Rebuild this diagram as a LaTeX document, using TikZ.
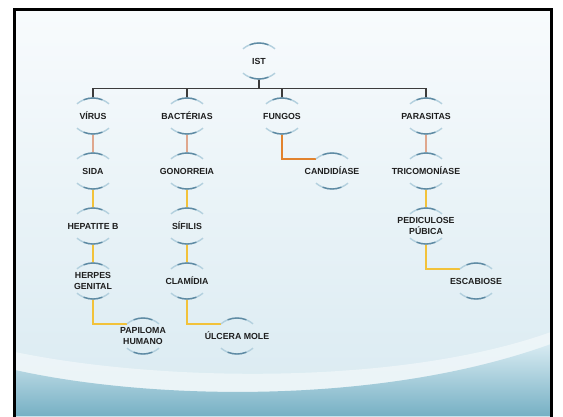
\documentclass[tikz,border=0pt]{standalone}
\usepackage{fontspec}
\setmainfont{Liberation Sans}
\usepackage{xcolor}
\usetikzlibrary{positioning}
\definecolor{istText}{HTML}{1E1E1E}
\definecolor{istArc}{HTML}{5E8AA3}
\definecolor{istArcLight}{HTML}{B3D0DE}
\definecolor{istBar}{HTML}{3C3C3C}
\definecolor{istSalmon}{HTML}{DFA78E}
\definecolor{istOrange}{HTML}{E2832E}
\definecolor{istGold}{HTML}{F2C23A}
\definecolor{bgTop}{HTML}{F8FBFD}
\definecolor{bgLow}{HTML}{D9EAF1}
\definecolor{bgWave}{HTML}{D8EBF2}
\definecolor{bgDeep}{HTML}{76B0C4}
\tikzset{
  topic/.style={
    font=\fontsize{7.5}{10}\selectfont\bfseries,
    text=istText,
    align=center,
    inner sep=0pt
  },
  bar/.style={draw=istBar, line width=1.1pt},
  link/.style={line width=1.4pt},
  arcfade/.style={draw=istArcLight, line width=1.2pt},
  arccore/.style={draw=istArc, line width=1.2pt}
}

\begin{document}
\begin{tikzpicture}[x=0.03cm, y=0.03cm, node distance=1.65cm and 1.5cm, on grid]
\useasboundingbox (0,0) rectangle (563,416);

% slide background
\fill[white] (0,0) rectangle (563,416);
\shade[top color=bgTop, bottom color=bgLow] (15,0) rectangle (551,406);
\fill[white, opacity=0.45] (15,64) .. controls (160,34) and (400,30) .. (551,84) -- (551,0) -- (15,0) -- cycle;
\shade[top color=bgWave, bottom color=bgDeep] (15,46) .. controls (150,16) and (380,10) .. (551,72) -- (551,0) -- (15,0) -- cycle;
\draw[line width=0.09cm] (14.5,-10) rectangle (551.5,406.5);

\node[topic] (ist) at (259,355) {IST};

\node[topic, below left=1.65cm and 4.98cm of ist] (virus) {VÍRUS};
\node[topic, below left=1.65cm and 2.16cm of ist] (bacterias) {BACTÉRIAS};
\node[topic, below right=1.65cm and 0.69cm of ist] (fungos) {FUNGOS};
\node[topic, below right=1.65cm and 5.01cm of ist] (parasitas) {PARASITAS};

\node[topic, below=of virus] (sida) {SIDA};
\node[topic, below=of sida] (hepatite) {HEPATITE B};
\node[topic, below=of hepatite] (herpes) {HERPES\\GENITAL};
\node[topic, below right=of herpes] (papiloma) {PAPILOMA\\HUMANO};

\node[topic, below=of bacterias] (gonorreia) {GONORREIA};
\node[topic, below=of gonorreia] (sifilis) {SÍFILIS};
\node[topic, below=of sifilis] (clamidia) {CLAMÍDIA};
\node[topic, below right=of clamidia] (ulcera) {ÚLCERA MOLE};

\node[topic, below right=of fungos] (candidiase) {CANDIDÍASE};

\node[topic, below=of parasitas] (tricomoniase) {TRICOMONÍASE};
\node[topic, below=of tricomoniase] (pediculose) {PEDICULOSE\\PÚBICA};
\node[topic, below right=of pediculose] (escabiose) {ESCABIOSE};

% top level bus
\draw[bar] ([yshift=-0.54cm]ist.center) -- ++(0,-0.28cm) coordinate (bus);
\draw[bar] (bus -| virus) -- (bus -| parasitas);
\foreach \n in {virus,bacterias,fungos,parasitas}
  \draw[bar] (bus -| \n) -- ([yshift=0.54cm]\n.center);

% first links
\draw[link, draw=istSalmon] ([yshift=-0.54cm]virus.center) -- ([yshift=0.54cm]sida.center);
\draw[link, draw=istSalmon] ([yshift=-0.54cm]bacterias.center) -- ([yshift=0.54cm]gonorreia.center);
\draw[link, draw=istSalmon] ([yshift=-0.54cm]parasitas.center) -- ([yshift=0.54cm]tricomoniase.center);
\draw[link, draw=istOrange] ([yshift=-0.54cm]fungos.center) |- ([shift={(-0.48cm,0.36cm)}]candidiase.center);

% deeper links
\draw[link, draw=istGold] ([yshift=-0.54cm]sida.center) -- ([yshift=0.54cm]hepatite.center);
\draw[link, draw=istGold] ([yshift=-0.54cm]hepatite.center) -- ([yshift=0.54cm]herpes.center);
\draw[link, draw=istGold] ([yshift=-0.54cm]gonorreia.center) -- ([yshift=0.54cm]sifilis.center);
\draw[link, draw=istGold] ([yshift=-0.54cm]sifilis.center) -- ([yshift=0.54cm]clamidia.center);
\draw[link, draw=istGold] ([yshift=-0.54cm]tricomoniase.center) -- ([yshift=0.54cm]pediculose.center);
\draw[link, draw=istGold] ([yshift=-0.54cm]herpes.center) |- ([shift={(-0.48cm,0.36cm)}]papiloma.center);
\draw[link, draw=istGold] ([yshift=-0.54cm]clamidia.center) |- ([shift={(-0.48cm,0.36cm)}]ulcera.center);
\draw[link, draw=istGold] ([yshift=-0.54cm]pediculose.center) |- ([shift={(-0.48cm,0.36cm)}]escabiose.center);

% arcs round every topic
\foreach \n in {ist,virus,bacterias,fungos,parasitas,sida,hepatite,herpes,papiloma,
                gonorreia,sifilis,clamidia,ulcera,candidiase,tricomoniase,pediculose,escabiose}{
  \draw[arcfade] ([yshift=-0.21cm, shift={(130:0.75cm)}]\n.center) arc[start angle=130, end angle=50, radius=0.75cm];
  \draw[arcfade] ([yshift=0.21cm, shift={(230:0.75cm)}]\n.center) arc[start angle=230, end angle=310, radius=0.75cm];
  \draw[arccore] ([yshift=-0.21cm, shift={(112:0.75cm)}]\n.center) arc[start angle=112, end angle=68, radius=0.75cm];
  \draw[arccore] ([yshift=0.21cm, shift={(248:0.75cm)}]\n.center) arc[start angle=248, end angle=292, radius=0.75cm];
}

\end{tikzpicture}
\end{document}
